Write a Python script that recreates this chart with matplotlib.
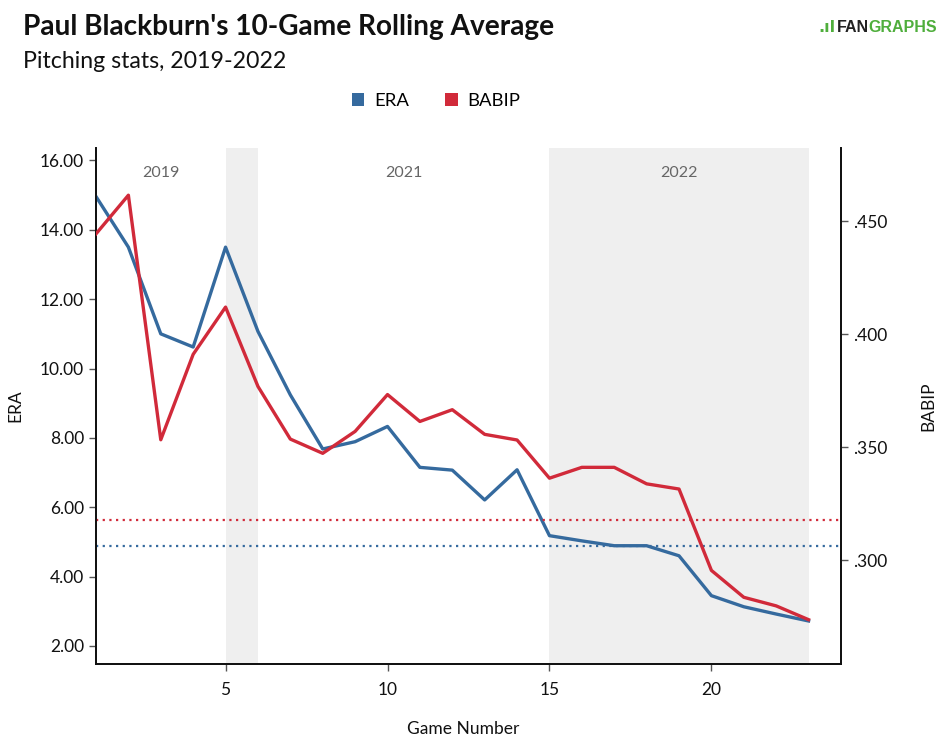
import matplotlib
matplotlib.use("Agg")
import matplotlib.pyplot as plt
from matplotlib.patches import Patch
from matplotlib.ticker import FuncFormatter

plt.rcParams['font.family'] = ['Lato', 'DejaVu Sans']

games = list(range(1, 24))
era = [14.96, 13.50, 11.00, 10.62, 13.50, 11.07, 9.24, 7.68, 7.89, 8.33, 7.15,
       7.07, 6.21, 7.08, 5.18, 5.03, 4.89, 4.89, 4.60, 3.45, 3.13, 2.92, 2.72]
babip = [.4444, .4615, .3533, .3911, .4120, .3769, .3536, .3473, .3570, .3733, .3614,
         .3666, .3557, .3532, .3363, .3411, .3411, .3338, .3315, .2955, .2836, .2798, .2737]
era_avg = 4.88
babip_avg = 0.318
seasons = ["2019", "2021", "2022"]
season_label_x = [3, 10.5, 19]
shaded_spans = [(5, 6), (15, 23)]

blue = "#356a9e"
red = "#d12a3a"

fig = plt.figure(figsize=(9.43, 7.5), dpi=100)
ax = fig.add_axes([0.1018, 0.1147, 0.79, 0.688])
ax2 = ax.twinx()

for a, b in shaded_spans:
    ax.axvspan(a, b, color="#efefef", lw=0, zorder=0)

ax.plot(games, era, color=blue, lw=2.4, zorder=3)
ax.axhline(era_avg, color=blue, lw=1.6, ls=(0, (1, 2)), zorder=2)
ax2.plot(games, babip, color=red, lw=2.4, zorder=3)
ax2.axhline(babip_avg, color=red, lw=1.6, ls=(0, (1, 2)), zorder=2)

ax.set_xlim(1, 24)
ax.set_ylim(1.48, 16.36)
ax2.set_ylim(0.2541, 0.4824)

ax.set_xticks([5, 10, 15, 20])
ax.set_yticks([2, 4, 6, 8, 10, 12, 14, 16])
ax.yaxis.set_major_formatter(FuncFormatter(lambda v, p: f"{v:.2f}"))
ax2.set_yticks([0.300, 0.350, 0.400, 0.450])
ax2.yaxis.set_major_formatter(FuncFormatter(lambda v, p: f"{v:.3f}".lstrip("0")))

for a in (ax, ax2):
    a.spines['top'].set_visible(False)
    for s in ('left', 'bottom', 'right'):
        a.spines[s].set_linewidth(1.3)
        a.spines[s].set_color("#111111")
    a.tick_params(labelsize=12.5, length=5, width=1, color="#555555", labelcolor="#111111")
ax.tick_params(axis='x', pad=8)

ax.set_ylabel("ERA", fontsize=12.5, color="#111111", labelpad=12)
ax2.set_ylabel("BABIP", fontsize=12.5, color="#111111", labelpad=24)
ax.set_xlabel("Game Number", fontsize=12.5, color="#111111")
ax.xaxis.set_label_coords(0.4926, -0.110)

for lbl, x in zip(seasons, season_label_x):
    ax.text(x, 15.65, lbl, ha="center", va="center", fontsize=11.5, color="#666666")

fig.text(0.024, 0.9533, "Paul Blackburn's 10-Game Rolling Average", fontsize=20.2,
         fontweight="bold", va="baseline", ha="left", color="#111111")
fig.text(0.024, 0.9087, "Pitching stats, 2019-2022", fontsize=16.7, va="baseline",
         ha="left", color="#111111")

logo_font = ['Liberation Sans', 'DejaVu Sans']
fig.text(0.8876, 0.964, "FAN", fontsize=11.5, fontweight="bold", color="#222222",
         ha="left", va="center", family=logo_font)
fig.text(0.9205, 0.964, "GRAPHS", fontsize=11.5, fontweight="bold", color="#4fae3c",
         ha="left", va="center", family=logo_font)
fig.text(0.8674, 0.964, ".\u0131l", fontsize=11.5, fontweight="bold", color="#4fae3c",
         ha="left", va="center", family=['DejaVu Sans'])

handles = [Patch(facecolor=blue, label="ERA"), Patch(facecolor=red, label="BABIP")]
fig.legend(handles=handles, loc="center", bbox_to_anchor=(0.4625, 0.866), ncol=2,
           frameon=False, fontsize=13.3, handlelength=0.7, handleheight=0.7,
           handletextpad=0.55, columnspacing=1.9)

fig.savefig("out.png", dpi=100)
